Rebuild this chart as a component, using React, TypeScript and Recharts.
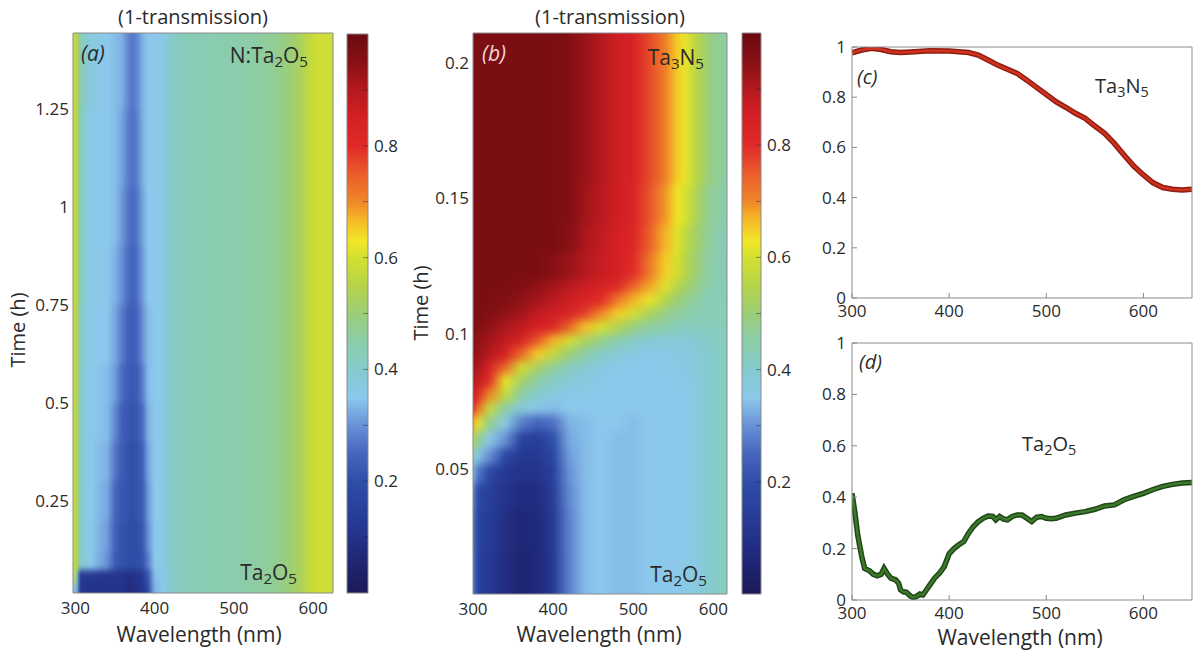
import { ComposedChart, LineChart, Line, XAxis, YAxis, ReferenceArea } from 'recharts'
import type { ReactNode } from 'react'

// colour scale of the (1-transmission) bars
const CMAP_VALUES = [0, 0.05, 0.1, 0.15, 0.2, 0.25, 0.3, 0.35, 0.4, 0.45, 0.5, 0.55, 0.6, 0.63, 0.67, 0.7, 0.75, 0.8, 0.85, 0.9, 0.95, 1]
const CMAP_COLORS = ['#1c1a58', '#1e2470', '#24328a', '#28409b', '#2e4ea8', '#4666be', '#6991d7', '#8cc8ec', '#84cbcd', '#8ccda8', '#9bce78', '#b6d448', '#d4e030', '#f2e626', '#f5b428', '#f08728', '#ea5c2a', '#e02a28', '#d42024', '#b4191e', '#871014', '#690a10']
const CBAR_TICKS = [0.1, 0.2, 0.3, 0.4, 0.5, 0.6, 0.7, 0.8, 0.9]
const CBAR_LABELS = [0.2, 0.4, 0.6, 0.8]

// (a) N:Ta2O5 map, values in % of (1-transmission), one row per time band
const A_WAVELENGTHS = [297, 302, 306, 320, 340, 350, 358, 366, 372, 378, 385, 392, 400, 410, 420, 440, 480, 520, 550, 570, 585, 595, 605, 625]
const A_TIME_EDGES = [0.015, 0.04, 0.075, 0.12, 0.2, 0.3, 0.4, 0.5, 0.6, 0.75, 0.9, 1.05, 1.25, 1.445]
const A_ROWS = [
  [40, 33, 12, 10, 10, 10, 10, 8, 8, 10, 12, 20, 33, 35, 40, 43, 44, 45, 47, 50, 53, 57, 59, 59],
  [58, 42, 13, 12, 11, 11, 11, 9, 9, 11, 13, 22, 34, 35, 40, 43, 44, 45, 47, 50, 53, 57, 59, 59],
  [59, 54, 40, 35, 30, 23, 21, 20, 19, 20, 21, 28, 35, 36, 40, 43, 44, 45, 47, 50, 53, 57, 59, 59],
  [59, 54, 40, 35, 31, 24, 21, 20, 19, 20, 22, 30, 35, 36, 40, 43, 44, 45, 47, 50, 53, 57, 59, 59],
  [59, 54, 40, 35, 32, 25, 22, 21, 20, 21, 23, 31, 35, 36, 40, 43, 44, 45, 47, 50, 53, 57, 59, 59],
  [59, 54, 40, 35, 33, 27, 23, 21, 20, 21, 24, 32, 35, 36, 40, 43, 44, 45, 47, 50, 53, 57, 59, 59],
  [59, 54, 41, 35, 34, 29, 24, 22, 21, 22, 26, 33, 35, 36, 40, 43, 44, 45, 47, 50, 53, 57, 59, 59],
  [59, 54, 41, 35, 34, 31, 26, 23, 22, 23, 28, 34, 35, 36, 40, 43, 44, 45, 47, 50, 53, 57, 59, 59],
  [59, 54, 41, 35, 35, 32, 28, 24, 23, 25, 30, 34, 35, 36, 40, 43, 44, 45, 47, 50, 53, 57, 59, 59],
  [59, 55, 42, 36, 35, 33, 30, 26, 24, 26, 31, 35, 35, 36, 40, 43, 44, 45, 47, 50, 53, 57, 59, 59],
  [59, 55, 42, 36, 35, 34, 31, 27, 25, 27, 32, 35, 35, 36, 40, 43, 44, 45, 47, 50, 53, 57, 59, 59],
  [59, 55, 42, 36, 35, 34, 32, 28, 26, 28, 33, 35, 35, 36, 40, 43, 44, 45, 47, 50, 53, 57, 59, 59],
  [59, 55, 43, 37, 35, 34, 33, 29, 27, 29, 33, 35, 35, 36, 40, 43, 44, 45, 47, 50, 53, 57, 59, 59],
]

// (b) Ta2O5 -> Ta3N5 map
const B_WAVELENGTHS = [300, 305, 320, 340, 360, 380, 400, 420, 440, 460, 480, 500, 520, 540, 555, 565, 580, 595, 617]
const B_TIME_EDGES = [0.004, 0.02, 0.035, 0.045, 0.052, 0.058, 0.064, 0.07, 0.075, 0.08, 0.085, 0.09, 0.095, 0.1, 0.105, 0.11, 0.115, 0.12, 0.13, 0.14, 0.155, 0.175, 0.195, 0.211]
const B_ROWS = [
  [28, 15, 13, 8, 5, 7, 12, 28, 34, 35, 34, 34, 35, 35, 35, 36, 37, 40, 42],
  [28, 16, 14, 9, 6, 7, 13, 28, 34, 35, 34, 34, 35, 35, 35, 36, 37, 40, 42],
  [30, 18, 15, 10, 8, 8, 14, 29, 34, 35, 34, 34, 35, 35, 35, 36, 37, 40, 42],
  [34, 27, 18, 12, 10, 10, 15, 30, 34, 35, 34, 34, 35, 35, 35, 36, 37, 40, 42],
  [42, 36, 30, 18, 12, 12, 17, 31, 34, 35, 34, 34, 35, 35, 35, 36, 37, 40, 42],
  [55, 48, 36, 30, 16, 14, 20, 32, 34, 35, 34, 34, 35, 35, 35, 36, 37, 40, 42],
  [68, 62, 48, 37, 28, 24, 26, 33, 34, 35, 35, 34, 35, 35, 35, 36, 37, 40, 42],
  [80, 74, 58, 45, 38, 35, 34, 35, 35, 35, 35, 35, 35, 35, 35, 36, 37, 40, 42],
  [86, 83, 70, 57, 45, 40, 37, 36, 36, 35, 35, 35, 35, 35, 35, 36, 37, 40, 42],
  [90, 88, 80, 62, 52, 45, 41, 38, 37, 36, 35, 35, 35, 35, 36, 36, 37, 40, 42],
  [92, 91, 84, 74, 60, 52, 46, 42, 39, 37, 36, 35, 35, 36, 36, 37, 38, 40, 42],
  [94, 93, 90, 84, 74, 65, 57, 50, 45, 41, 38, 37, 36, 36, 37, 37, 38, 40, 42],
  [95, 94, 92, 88, 84, 76, 67, 60, 53, 48, 44, 41, 39, 38, 38, 38, 39, 41, 42],
  [96, 96, 94, 91, 88, 85, 82, 74, 66, 60, 54, 49, 46, 44, 43, 42, 42, 42, 43],
  [97, 97, 96, 94, 92, 88, 86, 84, 78, 70, 65, 60, 53, 48, 46, 45, 44, 43, 43],
  [97, 97, 97, 96, 94, 92, 89, 86, 84, 80, 72, 67, 62, 55, 50, 48, 45, 43, 43],
  [97, 97, 97, 97, 96, 94, 92, 89, 86, 84, 82, 74, 68, 61, 55, 52, 48, 44, 43],
  [97, 97, 97, 97, 97, 97, 95, 93, 90, 87, 85, 80, 72, 65, 60, 55, 50, 45, 43],
  [97, 97, 97, 97, 97, 97, 97, 95, 91, 88, 85, 82, 75, 67, 61, 57, 51, 46, 43],
  [97, 97, 97, 97, 97, 97, 97, 96, 92, 89, 86, 83, 76, 69, 63, 60, 53, 47, 44],
  [97, 97, 97, 97, 97, 97, 97, 96, 93, 90, 86, 84, 77, 71, 65, 62, 55, 49, 45],
  [97, 97, 97, 97, 97, 97, 97, 96, 93, 90, 86, 84, 77, 71, 65, 62, 55, 49, 45],
  [97, 97, 97, 97, 97, 97, 97, 96, 93, 90, 86, 84, 77, 71, 65, 62, 55, 49, 45],
]

// (c) Ta3N5 spectrum
const C_WAVELENGTHS = [300, 310, 320, 330, 340, 350, 360, 380, 400, 420, 430, 440, 450, 460, 470, 480, 490, 500, 510, 520, 530, 540, 550, 560, 570, 580, 590, 600, 610, 620, 630, 640, 650]
const C_VALUES = [0.977, 0.988, 0.995, 0.99, 0.981, 0.978, 0.98, 0.985, 0.984, 0.978, 0.968, 0.948, 0.928, 0.911, 0.895, 0.868, 0.839, 0.811, 0.782, 0.76, 0.736, 0.716, 0.685, 0.656, 0.616, 0.57, 0.526, 0.49, 0.459, 0.44, 0.433, 0.43, 0.433]

// (d) Ta2O5 spectrum
const D_WAVELENGTHS = [300, 303, 306, 310, 313, 318, 322, 326, 330, 333, 336, 340, 345, 348, 350, 353, 356, 360, 363, 366, 370, 373, 376, 380, 385, 390, 395, 400, 405, 410, 415, 420, 425, 430, 435, 440, 445, 448, 452, 456, 460, 465, 470, 475, 480, 485, 490, 495, 500, 505, 510, 520, 530, 540, 550, 560, 570, 580, 590, 600, 610, 620, 630, 640, 650]
const D_VALUES = [0.415, 0.34, 0.25, 0.17, 0.123, 0.114, 0.1, 0.094, 0.1, 0.123, 0.104, 0.085, 0.078, 0.065, 0.04, 0.032, 0.03, 0.016, 0.01, 0.013, 0.023, 0.02, 0.036, 0.058, 0.085, 0.104, 0.13, 0.18, 0.2, 0.215, 0.227, 0.26, 0.286, 0.305, 0.318, 0.327, 0.325, 0.312, 0.325, 0.315, 0.312, 0.325, 0.331, 0.331, 0.318, 0.305, 0.322, 0.325, 0.318, 0.316, 0.318, 0.331, 0.338, 0.344, 0.353, 0.366, 0.37, 0.39, 0.403, 0.415, 0.43, 0.442, 0.45, 0.455, 0.457]

const SPEC_X_TICKS = [300, 400, 500, 600]
const SPEC_Y_TICKS = [0, 0.2, 0.4, 0.6, 0.8, 1]

const TEXT = '#2a2a2a'
const FRAME = '#8a8a8a'
const tickStyle = { fontSize: 17, fill: TEXT }

function hexToRgb(h: string) {
  return [1, 3, 5].map((i) => parseInt(h.slice(i, i + 2), 16))
}

function cmap(v: number) {
  const t = Math.max(0, Math.min(1, v))
  let i = 0
  while (i < CMAP_VALUES.length - 2 && t > CMAP_VALUES[i + 1]) i++
  const f = (t - CMAP_VALUES[i]) / (CMAP_VALUES[i + 1] - CMAP_VALUES[i])
  const a = hexToRgb(CMAP_COLORS[i])
  const b = hexToRgb(CMAP_COLORS[i + 1])
  const c = a.map((x, k) => Math.round(x + (b[k] - x) * f))
  return `rgb(${c[0]},${c[1]},${c[2]})`
}

const crispRect = (p: any) => (
  <rect x={p.x} y={p.y} width={p.width} height={p.height} fill={p.fill} shapeRendering="crispEdges" />
)

function Note({ x, y, anchor = 'middle', size = 20, color = TEXT, italic = false, rotate = false, children }: {
  x: number; y: number; anchor?: 'start' | 'middle' | 'end'; size?: number; color?: string; italic?: boolean; rotate?: boolean; children: ReactNode
}) {
  const tx = anchor === 'start' ? '0' : anchor === 'end' ? '-100%' : '-50%'
  return (
    <div style={{
      position: 'absolute', left: x, top: y, fontSize: size, color, lineHeight: 1, whiteSpace: 'nowrap',
      fontStyle: italic ? 'italic' : 'normal',
      transform: `translate(${tx}, -50%)${rotate ? ' rotate(-90deg)' : ''}`,
    }}>{children}</div>
  )
}

const Sub = ({ c }: { c: string }) => (
  <sub style={{ fontSize: '0.72em', verticalAlign: '-0.3em', lineHeight: 0 }}>{c}</sub>
)

// plot area of both maps: 73px axis at left, 30px axis at bottom, 33px above
const MAP_TOP = 33
const MAP_AXIS_W = 73
const MAP_AXIS_H = 30

function HeatMap({ id, left, wavelengths, edges, rows, xDomain, yDomain, yTicks, marginRight, marginBottom }: {
  id: string; left: number; wavelengths: number[]; edges: number[]; rows: number[][]
  xDomain: [number, number]; yDomain: [number, number]; yTicks: number[]; marginRight: number; marginBottom: number
}) {
  const [x0, x1] = xDomain
  // the bands run a little past the frame so the smoothing filter has no white border to pull in
  const padX = (x1 - x0) * 0.05
  const padY = (yDomain[1] - yDomain[0]) * 0.04
  const ex0 = x0 - padX
  const ex1 = x1 + padX
  const last = rows.length - 1
  const bottom = marginBottom + MAP_AXIS_H
  return (
    <div style={{ position: 'absolute', left, top: 0, width: 400, height: 653 }}>
      <div style={{
        position: 'absolute', left: 0, top: 0, filter: `url(#smooth-${id})`,
        clipPath: `inset(${MAP_TOP}px ${marginRight}px ${bottom}px ${MAP_AXIS_W}px)`,
      }}>
        <ComposedChart width={400} height={653} margin={{ top: MAP_TOP, right: marginRight, bottom, left: MAP_AXIS_W }}>
          <defs>
            {rows.map((row, i) => (
              <linearGradient key={i} id={`${id}-${i}`} x1="0" y1="0" x2="1" y2="0">
                {row.map((v, j) => (
                  <stop key={j} offset={(wavelengths[j] - ex0) / (ex1 - ex0)} stopColor={cmap(v / 100)} />
                ))}
              </linearGradient>
            ))}
          </defs>
          {rows.map((_, i) => (
            <ReferenceArea key={i} x1={ex0} x2={ex1}
              y1={i === 0 ? edges[0] - padY : edges[i]} y2={i === last ? edges[i + 1] + padY : edges[i + 1]}
              ifOverflow="visible" fill={`url(#${id}-${i})`} fillOpacity={1} stroke="none" shape={crispRect} />
          ))}
          <XAxis type="number" dataKey="x" domain={xDomain} allowDataOverflow hide />
          <YAxis type="number" dataKey="y" domain={yDomain} allowDataOverflow hide />
        </ComposedChart>
      </div>
      <div style={{ position: 'absolute', left: 0, top: 0 }}>
        <ComposedChart width={400} height={653} margin={{ top: MAP_TOP, right: marginRight, bottom: marginBottom, left: 0 }}>
          <ReferenceArea x1={x0} x2={x1} y1={yDomain[0]} y2={yDomain[1]} ifOverflow="visible"
            fill="none" stroke={FRAME} strokeWidth={1} />
          <XAxis type="number" dataKey="x" domain={xDomain} allowDataOverflow ticks={SPEC_X_TICKS} height={MAP_AXIS_H}
            axisLine={false} tickLine={false} tickSize={0} tickMargin={9} tick={tickStyle} />
          <YAxis type="number" dataKey="y" domain={yDomain} allowDataOverflow ticks={yTicks} width={MAP_AXIS_W}
            axisLine={false} tickLine={false} tickSize={0} tickMargin={4} tick={tickStyle} />
        </ComposedChart>
      </div>
    </div>
  )
}

function ColorBar({ id, left, top, bottom, plotWidth }: { id: string; left: number; top: number; bottom: number; plotWidth: number }) {
  return (
    <div style={{ position: 'absolute', left, top: 0 }}>
      <ComposedChart width={7 + plotWidth + 45} height={653} margin={{ top, right: 0, bottom, left: 0 }}>
        <defs>
          <linearGradient id={id} x1="0" y1="1" x2="0" y2="0">
            {CMAP_VALUES.map((v, i) => <stop key={i} offset={v} stopColor={CMAP_COLORS[i]} />)}
          </linearGradient>
        </defs>
        <ReferenceArea yAxisId="r" x1={0} x2={1} y1={0} y2={1} ifOverflow="visible"
          fill={`url(#${id})`} fillOpacity={1} stroke={FRAME} strokeWidth={1} />
        <XAxis type="number" dataKey="x" domain={[0, 1]} allowDataOverflow hide />
        <YAxis yAxisId="l" orientation="left" type="number" dataKey="y" domain={[0, 1]} allowDataOverflow ticks={CBAR_TICKS} width={7}
          axisLine={false} tick={false} tickSize={-5} tickLine={{ stroke: 'rgba(30,30,50,0.45)' }} />
        <YAxis yAxisId="r" orientation="right" type="number" dataKey="y" domain={[0, 1]} allowDataOverflow ticks={CBAR_TICKS} width={45}
          axisLine={false} tickSize={-5} tickMargin={11} tickLine={{ stroke: 'rgba(30,30,50,0.45)' }}
          tick={tickStyle} tickFormatter={(v: number) => (CBAR_LABELS.includes(v) ? String(v) : '')} />
      </ComposedChart>
    </div>
  )
}

function Spectrum({ top, height, marginTop, xAxisHeight, wavelengths, values, color, edge }: {
  top: number; height: number; marginTop: number; xAxisHeight: number
  wavelengths: number[]; values: number[]; color: string; edge: string
}) {
  const data = wavelengths.map((w, i) => ({ w, v: values[i] }))
  return (
    <div style={{ position: 'absolute', left: 800, top }}>
      <LineChart width={395} height={height} data={data} margin={{ top: marginTop, right: 0, bottom: 0, left: 0 }}>
        <XAxis xAxisId="b" type="number" dataKey="w" domain={[300, 650]} allowDataOverflow ticks={SPEC_X_TICKS}
          height={xAxisHeight} tickSize={-5} tickMargin={12} axisLine={{ stroke: FRAME }} tickLine={{ stroke: FRAME }} tick={tickStyle} />
        <XAxis xAxisId="t" orientation="top" type="number" dataKey="w" domain={[300, 650]} allowDataOverflow ticks={SPEC_X_TICKS}
          height={1} tickSize={-5} axisLine={{ stroke: FRAME }} tickLine={{ stroke: FRAME }} tick={false} />
        <YAxis yAxisId="l" type="number" domain={[0, 1]} allowDataOverflow ticks={SPEC_Y_TICKS} width={52}
          tickSize={-5} tickMargin={11} axisLine={{ stroke: FRAME }} tickLine={{ stroke: FRAME }} tick={tickStyle}
          tickFormatter={(v: number) => String(v)} />
        <YAxis yAxisId="r" orientation="right" type="number" domain={[0, 1]} allowDataOverflow ticks={SPEC_Y_TICKS} width={3}
          tickSize={-5} axisLine={{ stroke: FRAME }} tickLine={{ stroke: FRAME }} tick={false} />
        <Line xAxisId="b" yAxisId="l" type="linear" dataKey="v" stroke={edge} strokeWidth={5.5} dot={false} isAnimationActive={false} />
        <Line xAxisId="b" yAxisId="l" type="linear" dataKey="v" stroke={color} strokeWidth={2.5} dot={false} isAnimationActive={false} />
      </LineChart>
    </div>
  )
}

export default function App() {
  return (
    <div style={{ position: 'absolute', left: 0, top: 0, width: 1195, height: 653, background: '#fff', fontFamily: '"Open Sans", sans-serif', color: TEXT, overflow: 'hidden' }}>
      <svg width={0} height={0} style={{ position: 'absolute' }}>
        <defs>
          <filter id="smooth-ga" colorInterpolationFilters="sRGB">
            <feGaussianBlur stdDeviation="1 3" />
          </filter>
          <filter id="smooth-gb" colorInterpolationFilters="sRGB">
            <feGaussianBlur stdDeviation="2 5" />
          </filter>
        </defs>
      </svg>
      <HeatMap id="ga" left={0} wavelengths={A_WAVELENGTHS} edges={A_TIME_EDGES} rows={A_ROWS}
        xDomain={[297, 625]} yDomain={[0.015, 1.445]} yTicks={[0.25, 0.5, 0.75, 1, 1.25]} marginRight={67} marginBottom={30} />
      <ColorBar id="cba" left={340} top={34} bottom={60} plotWidth={21} />
      <HeatMap id="gb" left={400} wavelengths={B_WAVELENGTHS} edges={B_TIME_EDGES} rows={B_ROWS}
        xDomain={[300, 617]} yDomain={[0.004, 0.211]} yTicks={[0.05, 0.1, 0.15, 0.2]} marginRight={73} marginBottom={29} />
      <ColorBar id="cbb" left={735} top={33} bottom={59} plotWidth={19} />
      <Spectrum top={0} height={330} marginTop={46} xAxisHeight={32} wavelengths={C_WAVELENGTHS} values={C_VALUES}
        color="#d0321f" edge="#8e1d12" />
      <Spectrum top={320} height={333} marginTop={22} xAxisHeight={53} wavelengths={D_WAVELENGTHS} values={D_VALUES}
        color="#3c7a2b" edge="#1f4617" />

      <Note x={193} y={17} size={20}>(1-transmission)</Note>
      <Note x={610} y={17} size={20}>(1-transmission)</Note>
      <Note x={18} y={330} size={20} rotate>Time (h)</Note>
      <Note x={421} y={303} size={20} rotate>Time (h)</Note>
      <Note x={199} y={634} size={21}>Wavelength (nm)</Note>
      <Note x={599} y={634} size={21}>Wavelength (nm)</Note>
      <Note x={1020} y={637} size={21}>Wavelength (nm)</Note>

      <Note x={81} y={53} anchor="start" size={21} italic>(a)</Note>
      <Note x={308} y={55} anchor="end" size={21}>N:Ta<Sub c="2" />O<Sub c="5" /></Note>
      <Note x={297} y={572} anchor="end" size={21}>Ta<Sub c="2" />O<Sub c="5" /></Note>
      <Note x={482} y={53} anchor="start" size={21} italic color="#f1d6d6">(b)</Note>
      <Note x={704} y={57} anchor="end" size={21}>Ta<Sub c="3" />N<Sub c="5" /></Note>
      <Note x={707} y={574} anchor="end" size={21}>Ta<Sub c="2" />O<Sub c="5" /></Note>
      <Note x={857} y={77} anchor="start" size={20} italic>(c)</Note>
      <Note x={1095} y={86} anchor="start" size={20}>Ta<Sub c="3" />N<Sub c="5" /></Note>
      <Note x={859} y={362} anchor="start" size={20} italic>(d)</Note>
      <Note x={1022} y={444} anchor="start" size={20}>Ta<Sub c="2" />O<Sub c="5" /></Note>
    </div>
  )
}
